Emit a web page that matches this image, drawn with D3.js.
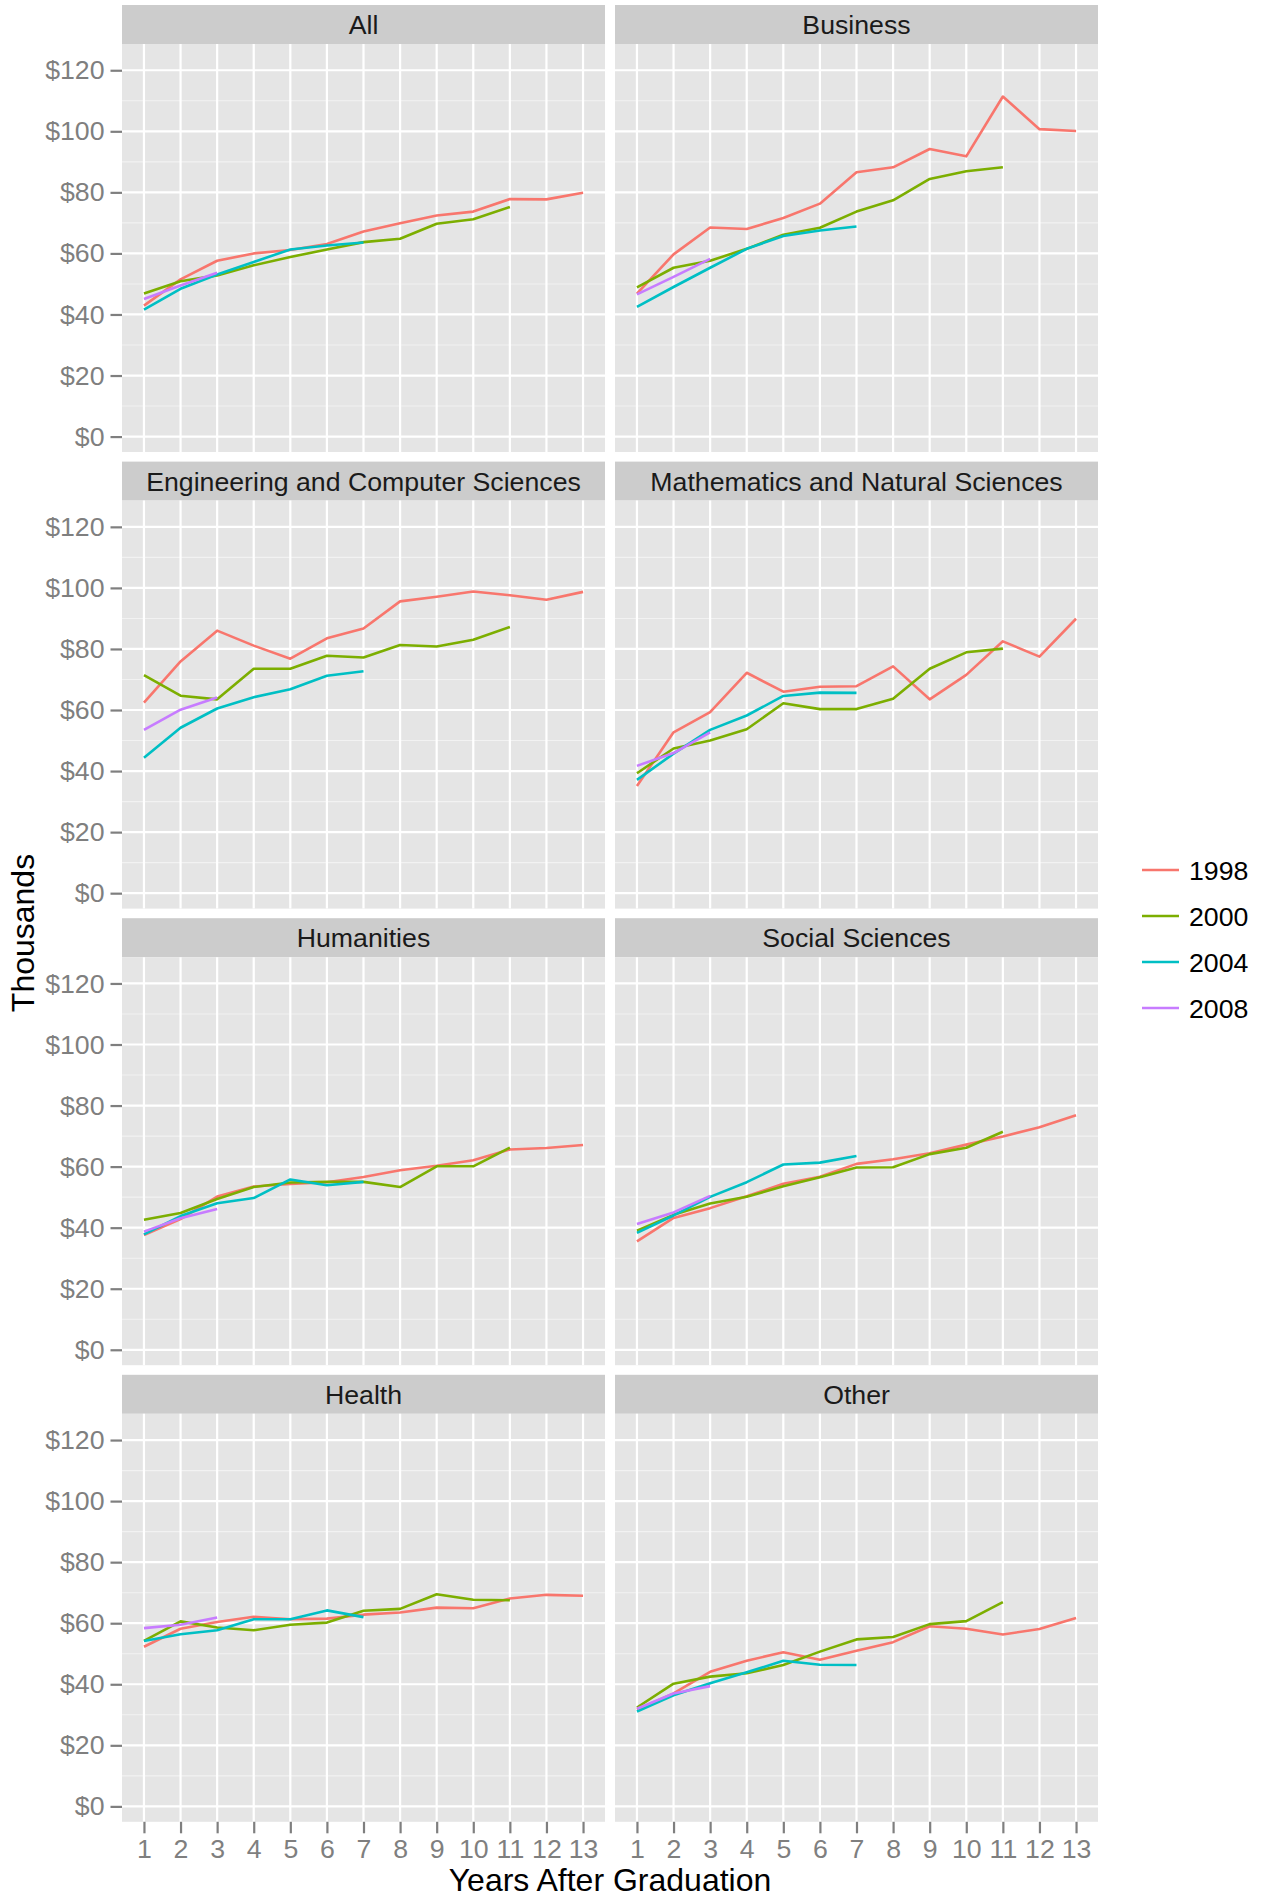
<!DOCTYPE html>
<html>
	<head>
		<title>Earnings by Field</title>
		<style>
			body, html {
				margin: 0;
				padding: 0;
				background: #ffffff;
			}
			svg text {
				font-family: "Liberation Sans", Arial, Helvetica, sans-serif;
			}
		</style>
	</head>
	<body>

		<svg id="svg" width="1261" height="1898"></svg>

		<script src="https://d3js.org/d3.v7.min.js"></script>
		<script>
			// Facet names, cohorts and axis ticks
			const fields = ['All', 'Business', 'Engineering and Computer Sciences', 'Mathematics and Natural Sciences',
				'Humanities', 'Social Sciences', 'Health', 'Other']
			const cohorts = ['1998', '2000', '2004', '2008']
			const yearTicks = [1, 2, 3, 4, 5, 6, 7, 8, 9, 10, 11, 12, 13]
			const dollarTicks = [0, 20, 40, 60, 80, 100, 120]
			const minorTicks = [10, 30, 50, 70, 90, 110]

			// Earnings in thousands, one array per cohort (1998, 2000, 2004, 2008), years after graduation start at 1
			const salAll = [
				[42.9, 51.5, 57.6, 60.0, 61.1, 63.1, 67.2, 69.9, 72.4, 73.7, 77.8, 77.7, 79.9],
				[46.9, 50.9, 52.8, 56.1, 58.8, 61.3, 63.7, 64.8, 69.7, 71.2, 75.2],
				[41.6, 48.4, 53.1, 57.2, 61.3, 62.6, 63.6],
				[45.1, 49.5, 53.7]
			]
			const salBusiness = [
				[46.8, 59.7, 68.5, 68.0, 71.6, 76.3, 86.6, 88.2, 94.2, 91.8, 111.4, 100.7, 100.1],
				[48.9, 55.3, 57.6, 61.5, 66.1, 68.4, 73.7, 77.4, 84.4, 86.9, 88.2],
				[42.5, 49.0, 55.3, 61.5, 65.7, 67.5, 68.8],
				[46.6, 52.3, 58.2]
			]
			const salEngineering = [
				[62.4, 75.9, 86.0, 81.1, 76.8, 83.5, 86.7, 95.6, 97.1, 98.8, 97.6, 96.1, 98.7],
				[71.4, 64.7, 63.5, 73.5, 73.5, 77.8, 77.2, 81.3, 80.8, 83.0, 87.2],
				[44.4, 54.2, 60.5, 64.2, 66.8, 71.2, 72.7],
				[53.5, 60.1, 64.1]
			]
			const salMath = [
				[35.1, 52.7, 59.3, 72.2, 66.0, 67.6, 67.8, 74.3, 63.5, 71.5, 82.5, 77.5, 89.9],
				[39.3, 47.4, 50.0, 53.7, 62.2, 60.3, 60.3, 63.7, 73.5, 78.9, 80.1],
				[37.1, 45.7, 53.5, 58.2, 64.6, 65.7, 65.6],
				[41.7, 45.9, 52.7]
			]
			const salHumanities = [
				[37.6, 42.8, 50.2, 53.5, 54.3, 54.9, 56.6, 58.8, 60.3, 62.1, 65.6, 66.1, 67.1],
				[42.6, 44.8, 49.4, 53.3, 54.8, 55.0, 55.0, 53.3, 60.1, 60.1, 66.2],
				[37.8, 43.8, 48.0, 49.7, 55.8, 53.9, 55.0],
				[38.7, 43.1, 46.1]
			]
			const salSocial = [
				[35.5, 43.2, 46.4, 50.3, 54.4, 56.7, 60.9, 62.4, 64.4, 67.2, 69.9, 72.9, 76.8],
				[39.0, 44.2, 47.9, 50.1, 53.6, 56.5, 59.7, 59.8, 64.1, 66.2, 71.4],
				[38.3, 44.0, 50.1, 54.9, 60.7, 61.3, 63.5],
				[41.2, 45.0, 50.4]
			]
			const salHealth = [
				[52.3, 58.2, 60.4, 62.1, 61.3, 61.5, 62.8, 63.5, 65.1, 64.9, 68.1, 69.3, 69.0],
				[54.2, 60.6, 58.6, 57.7, 59.5, 60.2, 64.1, 64.7, 69.5, 67.7, 67.5],
				[54.2, 56.4, 57.7, 61.3, 61.3, 64.2, 62.0],
				[58.4, 59.5, 61.9]
			]
			const salOther = [
				[31.7, 37.0, 44.1, 47.7, 50.5, 48.0, 51.0, 53.8, 59.0, 58.2, 56.3, 58.1, 61.7],
				[32.4, 40.2, 42.5, 43.6, 46.3, 50.7, 54.7, 55.5, 59.7, 60.7, 66.9],
				[31.1, 36.4, 40.3, 43.9, 47.7, 46.4, 46.3],
				[32.0, 37.0, 39.4]
			]
			const panelData = [salAll, salBusiness, salEngineering, salMath, salHumanities, salSocial, salHealth, salOther]

			// Layout
			const colLeft = [122, 615]
			const panelW = 483
			const panelH = 408
			const stripH = 39
			const rowStep = 456.6
			const firstTop = 5
			const smallFont = 26.7
			const titleFont = 32

			const colors = d3.scaleOrdinal()
				.domain(cohorts)
				.range(['#F8766D', '#7CAE00', '#00BFC4', '#C77CFF'])

			const x = d3.scaleLinear().domain([0.4, 13.6]).range([0, panelW])
			const y = d3.scaleLinear().domain([-5.05, 128.6]).range([panelH, 0])

			const svg = d3.select('#svg')

			const lineGen = d3.line()
				.x((d, i) => x(i + 1))
				.y(d => y(d))

			fields.forEach((field, k) => {
				const col = k % 2
				const row = Math.floor(k / 2)
				const left = colLeft[col]
				const top = firstTop + row * rowStep

				// strip
				const strip = svg.append('g').attr('transform', `translate(${left}, ${top})`)
				strip.append('rect')
					.attr('width', panelW)
					.attr('height', stripH)
					.attr('fill', '#CCCCCC')
				strip.append('text')
					.attr('x', panelW / 2)
					.attr('y', stripH / 2)
					.attr('dy', '0.36em')
					.attr('text-anchor', 'middle')
					.attr('font-size', smallFont)
					.attr('fill', '#1A1A1A')
					.text(field)

				// panel
				const g = svg.append('g').attr('transform', `translate(${left}, ${top + stripH})`)
				g.append('rect')
					.attr('width', panelW)
					.attr('height', panelH)
					.attr('fill', '#E5E5E5')

				g.selectAll('.minor')
					.data(minorTicks)
					.join('line')
					.attr('x1', 0).attr('x2', panelW)
					.attr('y1', d => y(d)).attr('y2', d => y(d))
					.attr('stroke', '#F2F2F2')
					.attr('stroke-width', 1.1)

				g.selectAll('.hmajor')
					.data(dollarTicks)
					.join('line')
					.attr('x1', 0).attr('x2', panelW)
					.attr('y1', d => y(d)).attr('y2', d => y(d))
					.attr('stroke', '#FFFFFF')
					.attr('stroke-width', 2.2)

				g.selectAll('.vmajor')
					.data(yearTicks)
					.join('line')
					.attr('y1', 0).attr('y2', panelH)
					.attr('x1', d => x(d)).attr('x2', d => x(d))
					.attr('stroke', '#FFFFFF')
					.attr('stroke-width', 2.2)

				// one line for each cohort
				g.selectAll('path.series')
					.data(panelData[k])
					.join('path')
					.attr('class', 'series')
					.attr('d', lineGen)
					.attr('fill', 'none')
					.attr('stroke', (d, i) => colors(cohorts[i]))
					.attr('stroke-width', 2.6)
					.attr('stroke-linejoin', 'round')

				// y axis on the left column
				if (col === 0) {
					const ax = g.append('g')
						.call(d3.axisLeft(y)
							.tickValues(dollarTicks)
							.tickFormat(d => '$' + d)
							.tickSize(11.5)
							.tickPadding(6))
					ax.select('.domain').remove()
					ax.selectAll('line').attr('stroke', '#7F7F7F').attr('stroke-width', 2.2)
					ax.selectAll('text')
						.attr('fill', '#7F7F7F')
						.attr('font-size', smallFont)
						.attr('font-family', '"Liberation Sans", Arial, sans-serif')
				}

				// x axis on the bottom row
				if (row === 3) {
					const ax = g.append('g')
						.attr('transform', `translate(0, ${panelH})`)
						.call(d3.axisBottom(x)
							.tickValues(yearTicks)
							.tickFormat(d3.format('d'))
							.tickSize(11.5)
							.tickPadding(6))
					ax.select('.domain').remove()
					ax.selectAll('line').attr('stroke', '#7F7F7F').attr('stroke-width', 2.2)
					ax.selectAll('text')
						.attr('fill', '#7F7F7F')
						.attr('font-size', smallFont)
						.attr('font-family', '"Liberation Sans", Arial, sans-serif')
				}
			})

			// axis titles
			svg.append('text')
				.attr('x', (colLeft[0] + colLeft[1] + panelW) / 2)
				.attr('y', 1891)
				.attr('text-anchor', 'middle')
				.attr('font-size', titleFont)
				.attr('fill', '#000000')
				.text('Years After Graduation')

			svg.append('text')
				.attr('transform', 'translate(34, 933) rotate(-90)')
				.attr('text-anchor', 'middle')
				.attr('font-size', titleFont)
				.attr('fill', '#000000')
				.text('Thousands')

			// legend
			const legend = svg.append('g')
				.selectAll('g')
				.data(cohorts)
				.join('g')
				.attr('transform', (d, i) => `translate(1142, ${870 + i * 46})`)
			legend.append('line')
				.attr('x1', 0).attr('x2', 37)
				.attr('stroke', d => colors(d))
				.attr('stroke-width', 2.6)
			legend.append('text')
				.attr('x', 47)
				.attr('dy', '0.36em')
				.attr('font-size', smallFont)
				.attr('fill', '#000000')
				.text(d => d)
		</script>
	</body>
</html>
